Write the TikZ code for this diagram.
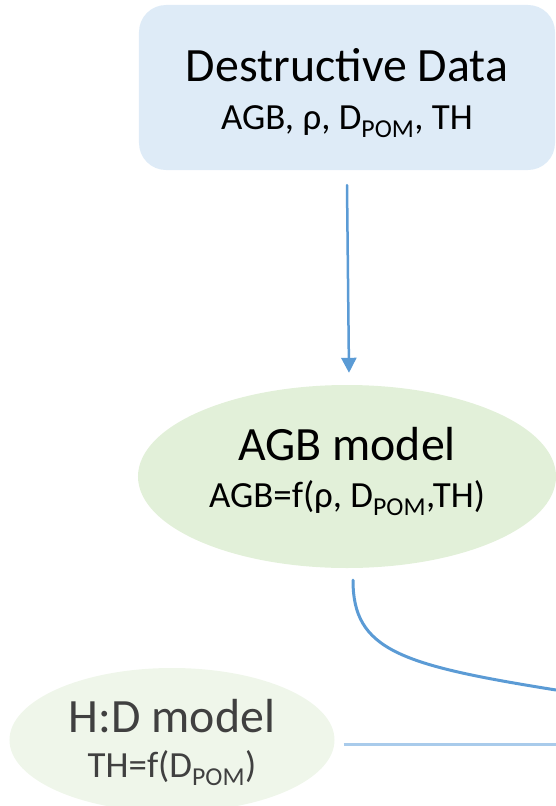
\documentclass[tikz,border=0pt]{standalone}
\usepackage{fontspec}
\setmainfont{Carlito}
\usepackage{xcolor}
\usetikzlibrary{arrows.meta, calc, positioning, shapes.geometric}

\definecolor{databox}{HTML}{DEEBF7}
\definecolor{agbfill}{HTML}{E2F0D9}
\definecolor{hdfill}{HTML}{EFF6EA}
\definecolor{flowblue}{HTML}{5B9BD5}
\definecolor{paleblue}{HTML}{A9CBEB}
\definecolor{hdtext}{HTML}{404040}

\begin{document}
\begin{tikzpicture}[line cap=round,line join=round,x=1bp,y=-1bp,
  every node/.style={align=center, inner sep=0pt, font=\fontsize{37}{48}\selectfont},
  flow/.style={line width=2.5bp, color=flowblue}]
% Frame
\useasboundingbox (0,0) rectangle (556,806);
\clip (0,0) rectangle (556,806);

% Data box
\node (data) [rectangle, rounded corners=27bp, fill=databox, minimum width=416bp, minimum height=165bp,
  text height=93bp, text depth=10bp] at (347,87.5)
  {{\fontsize{48}{48}\selectfont Destructive Data}\\AGB, ρ, D\textsubscript{POM}, TH};

% Models
\node (agb) [ellipse, fill=agbfill, minimum width=418bp, minimum height=183bp,
  text height=71bp, text depth=10bp] at (347,476.5)
  {{\fontsize{48}{48}\selectfont AGB model}\\[-1bp]AGB=f(ρ, D\textsubscript{POM},TH)};
\node (hd) [ellipse, fill=hdfill, text=hdtext, minimum width=325bp, minimum height=144bp,
  text height=84bp, text depth=10bp] at (172,740)
  {{\fontsize{48}{48}\selectfont H:D model}\\[-3bp]TH=f(D\textsubscript{POM})};

% Loose ends
\coordinate (curveend) at (556,690);
\coordinate (lineend) at (556,744);

% Connectors
\draw [flow, -{Triangle[length=15bp,width=15bp]}] ($(data.south)+(0,15)$) -- ($(agb.north)+(2,-12)$);
\draw [flow, line width=3bp] ($(agb.south)+(6,12)$) .. controls (353,650) and (400,665) .. (curveend);
\draw [line width=3bp, color=paleblue, line cap=butt] ($(hd.east)+(9,4)$) -- (lineend);
\end{tikzpicture}
\end{document}
